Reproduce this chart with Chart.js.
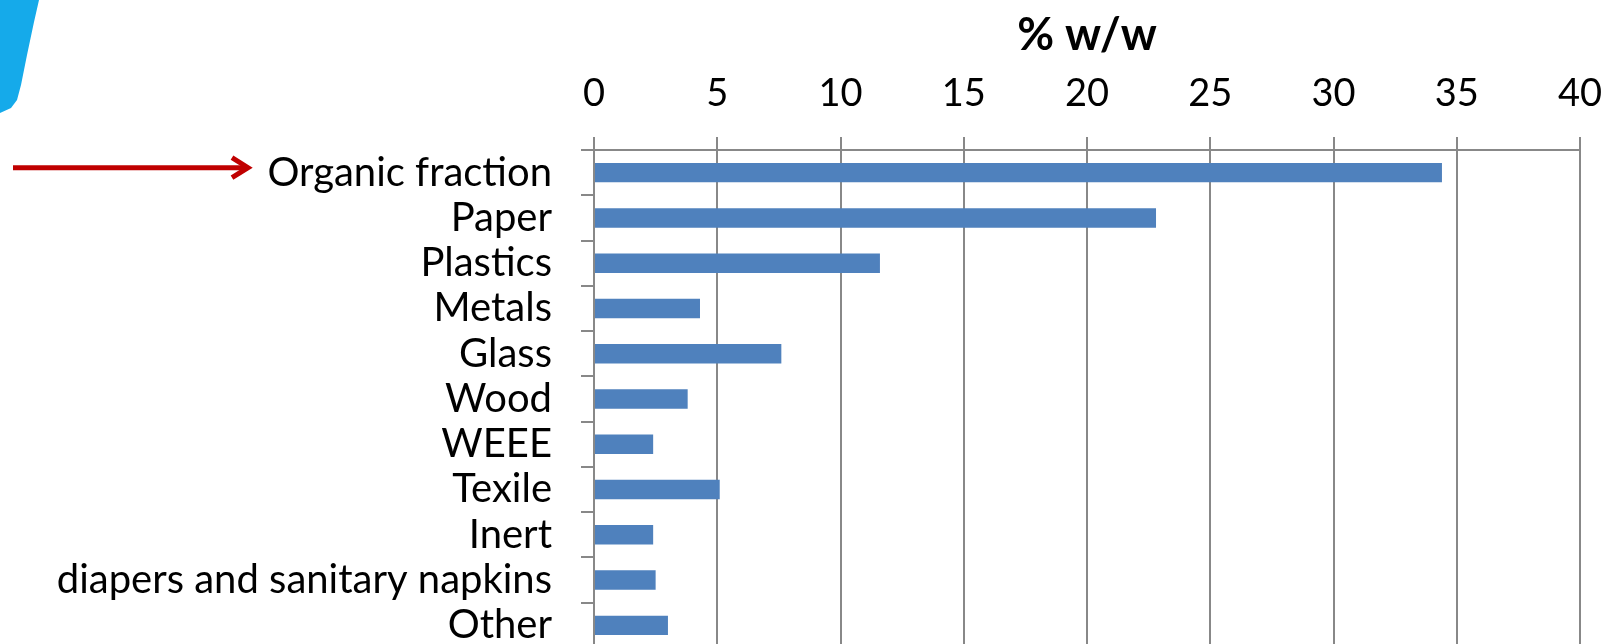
<!DOCTYPE html>
<html>
<head>
<meta charset="utf-8">
<script src="https://cdn.jsdelivr.net/npm/chart.js@4"></script>
<style>
  html, body { margin: 0; padding: 0; background: #ffffff; overflow: hidden; }
  #wrap { width: 1616px; height: 644px; overflow: hidden; position: relative; }
  canvas { display: block; }
</style>
</head>
<body>
<div id="wrap"><canvas id="c" width="1616" height="648"></canvas></div>
<script>
const categories = ["Organic fraction", "Paper", "Plastics", "Metals", "Glass", "Wood", "WEEE", "Texile", "Inert", "diapers and sanitary napkins", "Other"];
const values = [34.4, 22.8, 11.6, 4.3, 7.6, 3.8, 2.4, 5.1, 2.4, 2.5, 3.0];
const axisTitle = "% w/w";
const xMin = 0, xMax = 40, xStep = 5;

const FONT = "Lato";
const GRID = "#888888";

const decorPlugin = {
  id: 'decor',
  afterDraw(chart) {
    const ctx = chart.ctx;
    ctx.save();
    // blue shape in the top-left corner
    ctx.fillStyle = "#15AAEA";
    ctx.beginPath();
    ctx.moveTo(0, 0);
    ctx.lineTo(39, 0);
    ctx.lineTo(34, 22);
    ctx.lineTo(27, 55);
    ctx.lineTo(21, 85);
    ctx.lineTo(17, 100);
    ctx.lineTo(11, 108);
    ctx.lineTo(0, 113);
    ctx.closePath();
    ctx.fill();
    // red arrow pointing to the first category
    const y = chart.scales.y.getPixelForValue(0) - 5;
    ctx.strokeStyle = "#C00000";
    ctx.lineWidth = 5;
    ctx.lineCap = "butt";
    ctx.beginPath();
    ctx.moveTo(13, y);
    ctx.lineTo(248, y);
    ctx.stroke();
    ctx.lineJoin = "miter";
    ctx.beginPath();
    ctx.moveTo(232, y - 10);
    ctx.lineTo(248, y);
    ctx.lineTo(232, y + 10);
    ctx.stroke();
    ctx.restore();
  }
};

new Chart(document.getElementById('c'), {
  type: 'bar',
  data: {
    labels: categories,
    datasets: [{
      data: values,
      backgroundColor: "#4F81BD",
      borderWidth: 0,
      barPercentage: 0.43,
      categoryPercentage: 1.0
    }]
  },
  options: {
    indexAxis: 'y',
    responsive: false,
    animation: false,
    devicePixelRatio: 1,
    layout: { padding: { left: 0, right: 36, top: 0, bottom: 0 } },
    plugins: { legend: { display: false }, tooltip: { enabled: false } },
    scales: {
      x: {
        position: 'top',
        min: xMin,
        max: xMax,
        ticks: {
          stepSize: xStep,
          color: "#000000",
          padding: 20,
          maxRotation: 0,
          font: { family: FONT, size: 38 }
        },
        grid: {
          color: GRID,
          lineWidth: 2,
          tickLength: 13,
          drawTicks: true
        },
        border: { display: true, color: GRID, width: 2 },
        title: {
          display: true,
          text: axisTitle,
          color: "#000000",
          font: { family: FONT, size: 45, weight: 'bold' },
          padding: { top: 8, bottom: 0 }
        },
        afterFit(scale) {
          scale.height = 150;
          scale.paddingLeft = 0;
          scale.paddingRight = 0;
        }
      },
      y: {
        ticks: {
          color: "#000000",
          padding: 29,
          autoSkip: false,
          font: { family: FONT, size: 40 }
        },
        grid: {
          drawOnChartArea: false,
          drawTicks: true,
          tickLength: 13,
          color: GRID,
          lineWidth: 2
        },
        border: { display: true, color: GRID, width: 2 },
        afterFit(scale) {
          scale.width = 594;
          scale.paddingTop = 0;
          scale.paddingBottom = 0;
        }
      }
    }
  },
  plugins: [decorPlugin]
});
</script>
</body>
</html>
